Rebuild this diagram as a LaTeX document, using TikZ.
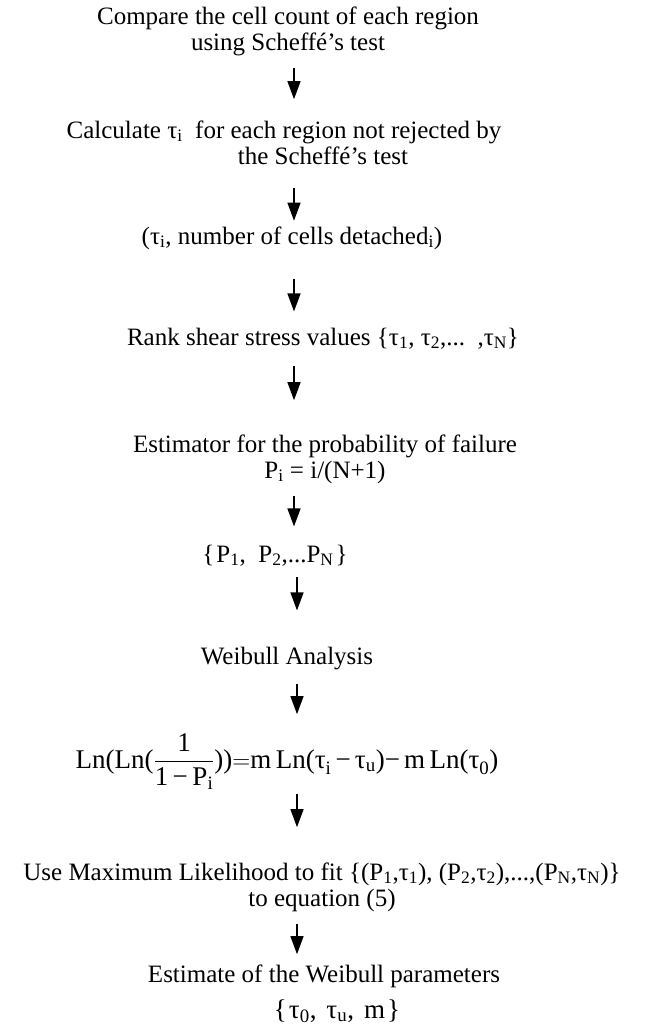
\documentclass[tikz,border=0pt]{standalone}
\usepackage{fontspec}
\setmainfont{Liberation Serif}
\usepackage{amsmath}
\usetikzlibrary{arrows.meta}
\newcommand{\sbs}[1]{\textsubscript{#1}}
\begin{document}
\begin{tikzpicture}[x=1pt,y=-1pt,
  txt/.style={inner sep=0pt, align=center, anchor=base, font=\fontsize{25}{26}\selectfont},
  arr/.style={line width=1.3pt, -{Triangle[width=13pt,length=18pt]}}]
\useasboundingbox (0,0) rectangle (646,1034);
\coordinate (ax) at (294,0);
\coordinate (bx) at (297,0);
\node[txt] (s1) at (288,50) {Compare the cell count of each region\\using Scheffé’s test};
\node[txt] (s2) at (284,164) {Calculate τ\sbs{i} \ for each region not rejected by\\\hspace*{78pt}the Scheffé’s test};
\node[txt] (s3) at (292,244) {(τ\sbs{i}, number of cells detached\sbs{i})};
\node[txt] (s4) at (323,345) {Rank shear stress values \{τ\sbs{1}, τ\sbs{2},... \,,τ\sbs{N}\}};
\node[txt] (s5) at (325,478) {Estimator for the probability of failure\\P\sbs{i} = i/(N+1)};
\node[txt] (s6) at (275,562) {\{\hspace{2pt}P\sbs{1}, \ P\sbs{2},...P\sbs{N}\hspace{2pt}\}};
\node[txt] (s7) at (287,664) {Weibull Analysis};
\node[txt, font=\fontsize{27}{28}\selectfont] (s8) at (287,768) {$\text{Ln(Ln(}\dfrac{\text{1}}{\text{1\,−\,P}_{\text{i}}}\text{))}{=}\text{m\,Ln(τ}_{\text{i}}\,\text{−}\,\text{τ}_{\text{u}}\text{)}\text{−}\,\text{m\,Ln(τ}_{\text{0}}\text{)}$};
\node[txt] (s9) at (322,906) {Use Maximum Likelihood to fit \{(P\sbs{1},τ\sbs{1}), (P\sbs{2},τ\sbs{2}),...,(P\sbs{N},τ\sbs{N})\}\\to equation (5)};
\node[txt] (s10) at (324,1018) {Estimate of the Weibull parameters\\[10pt]\hspace*{26pt}{\fontsize{27}{28}\selectfont\{\hspace{2pt}τ\sbs{0},\hspace{10pt}τ\sbs{u},\hspace{10pt}m\hspace{2pt}\}}};
\draw[arr, shorten <=12pt, shorten >=21pt] (s1.south -| ax) -- (s2.north -| ax);
\draw[arr, shorten <=24pt, shorten >=5.5pt] (s2.south -| ax) -- (s3.north -| ax);
\draw[arr, shorten <=29pt, shorten >=16pt] (s3.south -| ax) -- (s4.north -| ax);
\draw[arr, shorten <=17pt, shorten >=34pt] (s4.south -| ax) -- (s5.north -| ax);
\draw[arr, shorten <=12pt, shorten >=18pt] (s5.south -| ax) -- (s6.north -| ax);
\draw[arr, shorten <=11pt, shorten >=36pt] (s6.south -| bx) -- (s7.north -| bx);
\draw[arr, shorten <=14pt, shorten >=19pt] (s7.south -| bx) -- (s8.north -| bx);
\draw[arr, shorten <=5pt, shorten >=35pt] (s8.south -| bx) -- (s9.north -| bx);
\draw[arr, shorten <=12pt, shorten >=10pt] (s9.south -| bx) -- (s10.north -| bx);
\end{tikzpicture}
\end{document}
